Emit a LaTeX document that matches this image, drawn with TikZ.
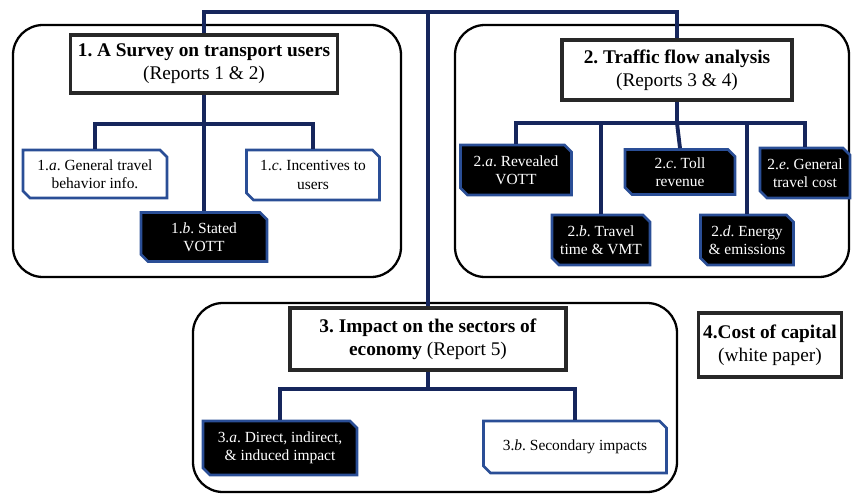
\documentclass[tikz,border=0pt]{standalone}
\usepackage{fontspec}
\setmainfont{Liberation Serif}
\usepackage{tikz}
\usetikzlibrary{shapes.misc, positioning, calc}
\definecolor{RNavy}{RGB}{22,38,92}
\definecolor{RBlue}{RGB}{42,78,150}
\definecolor{RGrey}{RGB}{40,40,40}
\frenchspacing

\begin{document}
\begin{tikzpicture}[x=0.02cm, y=-0.02cm,
          group/.style={draw=black, line width=1.3pt, rounded corners=0.6cm},
          head/.style={rectangle, draw=RGrey, line width=2pt, fill=white, align=center,
                       inner sep=1pt, font=\fontsize{11}{13}\selectfont},
          sub/.style={chamfered rectangle, chamfered rectangle corners={north east, south west},
                      chamfered rectangle xsep=0.07cm, chamfered rectangle ysep=0.07cm,
                      draw=RBlue, line width=1.5pt, align=center, inner sep=1pt,
                      font=\fontsize{8.8}{10.5}\selectfont},
          subw/.style={sub, fill=white},
          subk/.style={sub, fill=black, text=white},
          link/.style={draw=RNavy, line width=2.2pt}
        ]
        \useasboundingbox (0,0) rectangle (852,494);

        % groups
        \draw[group] (13,25) rectangle (401,277);
        \draw[group] (455,25) rectangle (849,277);
        \draw[group] (193,303) rectangle (677,492);

        % heads
        \node[head, minimum width=5.34cm, minimum height=1.16cm] (t1) at (204,64)
              {\textbf{1. A Survey on transport users}\\(Reports 1 \& 2)};
        \node[head, minimum width=4.6cm, minimum height=1.2cm] (t2) at (677,70)
              {\textbf{2. Traffic flow analysis}\\(Reports 3 \& 4)};
        \node[head, minimum width=5.52cm, minimum height=1.24cm] (t3) at (428,339)
              {\textbf{3. Impact on the sectors of}\\\textbf{economy} (Report 5)};
        \node[head, minimum width=2.86cm, minimum height=1.28cm] (t4) at (770,345)
              {\textbf{4.Cost of capital}\\(white paper)};

        % group 1
        \node[subw, minimum width=2.88cm, minimum height=0.96cm] (s1a) at (95,174)
              {1.\textit{a}. General travel\\behavior info.};
        \node[subk, minimum width=2.52cm, minimum height=0.98cm] (s1b) at (204,237)
              {1.\textit{b}. Stated\\VOTT};
        \node[subw, minimum width=2.66cm, minimum height=1cm] (s1c) at (313,175)
              {1.\textit{c}. Incentives to\\users};

        % group 2
        \node[subk, minimum width=2.22cm, minimum height=1cm] (s2a) at (516,170)
              {2.\textit{a}. Revealed\\VOTT};
        \node[subk, minimum width=1.96cm, minimum height=1cm] (s2b) at (601,240)
              {2.\textit{b}. Travel\\time \& VMT};
        \node[subk, minimum width=2.2cm, minimum height=0.9cm] (s2c) at (680,172)
              {2.\textit{c}. Toll\\revenue};
        \node[subk, minimum width=1.86cm, minimum height=1cm] (s2d) at (747,240)
              {2.\textit{d}. Energy\\\& emissions};
        \node[subk, minimum width=1.8cm, minimum height=1cm] (s2e) at (805,173)
              {2.\textit{e}. General\\travel cost};

        % group 3
        \node[subk, minimum width=3.08cm, minimum height=1.08cm] (s3a) at (280,448)
              {3.\textit{a}. Direct, indirect,\\\& induced impact};
        \node[subw, minimum width=3.66cm, minimum height=1.04cm] (s3b) at (575,447)
              {3.\textit{b}. Secondary impacts};

        % connectors
        \coordinate (bus) at (428,12);
        \coordinate (j1) at (t1.south |- 0,124);
        \coordinate (j2) at (t2.south |- 0,123);
        \coordinate (j3) at (t3.south |- 0,389);

        \draw[link] (t1.north) |- (bus) -| (t2.north);
        \draw[link] (bus) -- (t3.north);

        \draw[link] (t1.south) -- (j1);
        \draw[link] (s1a.north) |- (j1) -| (s1c.north);
        \draw[link] (j1) -- (s1b.north);

        \draw[link] (t2.south) -- (j2);
        \draw[link] (s2a.north) |- (j2) -| (s2e.north);
        \draw[link] (s2b.north |- j2) -- (s2b.north);
        \draw[link] (j2) -- (s2c.north);
        \draw[link] (s2d.north |- j2) -- (s2d.north);

        \draw[link] (t3.south) -- (j3);
        \draw[link] (s3a.north) |- (j3) -| (s3b.north);
      \end{tikzpicture}
\end{document}
